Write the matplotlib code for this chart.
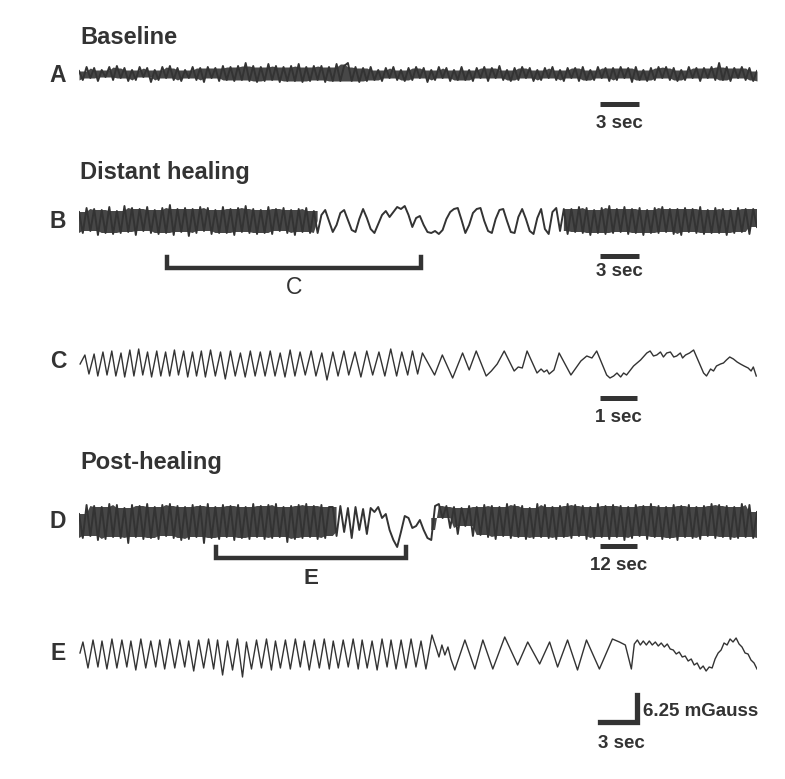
import numpy as np
import matplotlib.pyplot as plt

plt.rcParams['font.family'] = ['Liberation Sans', 'DejaVu Sans']

# ---- data (amplitude in screen px units, up = positive) ----
# dense traces: values at evenly spaced sample times
A_dur = 52.2
A_vals = [3, -6, 7, -4, 6, -7, 4, -3, 7, -6, 8, -4, 6, -7, 4, -6, 7, -3, 6, -8,
          4, -6, 7, -4, 8, -6, 6, -7, 4, -4, 7, -6, 6, -8, 7, -4, 6, -7, 8, -6,
          7, -7, 8, -6, 11, -7, 8, -8, 7, -7, 10, -6, 8, -8, 7, -7, 8, -7, 10, -8,
          7, -7, 8, -6, 8, -8, 7, -7, 10, -7, 8, 11, -7, 7, -8, 6, -7, 7, -6, 4,
          -7, 6, -4, 7, -6, 4, -7, 6, -6, 7, -4, 6, -8, 4, -6, 7, -4, 6, -7, 4,
          -6, 7, -6, 4, -7, 6, -4, 7, -7, 6, -4, 8, -6, 4, -7, 6, -6, 7, -4, 6,
          -7, 4, -6, 6, -4, 7, -6, 4, -7, 6, -4, 6, -7, 7, -6, 4, -6, 7, -4, 6,
          -7, 6, -6, 7, -4, 6, -8, 7, -6, 4, -7, 6, -6, 7, -4, 7, -6, 6, -7, 4,
          -6, 7, -4, 6, -7, 6, -4, 7, -6, 11, -6, 7, -7, 6, -4, 7, -6, 6, -7, 3]
A_dense = [(0.0, 52.2)]

B_dur = 52.2
B_vals = [9, -12, 13, -10, 12, -14, 11, -12, 14, -13, 10, -12, 15, -11, 13, -14, 12, -10, 14, -12,
          11, -13, 13, -12, 16, -14, 12, -11, 13, -15, 12, -12, 14, -10, 13, -13, 11, -12, 14, -12,
          12, -14, 13, -11, 15, -12, 12, -13, 11, -12, 14, -13, 12, -10, 13, -12, 11, -14, 12, -11,
          13, -12, 10, -12,
          6, 11, 0, -11, -4, 8, 11, 1, -9, -11, 2, 12, 3, -8, -12, -3, 6, 10, 4, 9,
          14, 12, 15, 6, -6, 3, 5, -4, -11, -12, -10, -13, -9, 2, 9, 12, 13, 1, -12, -4,
          8, 12, 13, 0, -10, -12, 2, 11, 12, 0, -11, -12, 4, 12, 2, -10, -13, 3, 12, -8,
          -13, 9, 13, -10, 12,
          -13, 12, -11, 14, -12, 13, -14, 11, -12, 13, -13, 15, -12, 12, -11, 14, -13, 12, -12, 13,
          -14, 11, -12, 13, -12, 14, -11, 12, -13, 12, -14, 13, -11, 12, -12, 14, -13, 11, -12, 13,
          -12, 12, -14, 11, -12, 13, -11, 12, -13, 12, -6]
B_dense = [(0.0, 18.4), (37.3, 52.2)]

D_dur = 220.0
D_vals = [8, -16, 17, -14, 16, -18, 15, -17, 18, -15, 17, -16, 14, -21, 17, -15, 16, -17, 18, -16,
          15, -17, 17, -14, 18, -16, 16, -18, 15, -17, 17, -15, 16, -21, 18, -16, 15, -17, 17, -15,
          16, -18, 17, -16, 15, -17, 18, -15, 16, -17, 17, -16, 18, -15, 15, -20, 16, -17, 17, -16,
          18, -15, 16, -17, 17, -16, 15,
          15, -14, 16, -10, 14, -16, 15, -8, 13, -12, 14, 10, 15, 4, 8, -8, -18, -25, -10, 6,
          4, -6, -4, 2, -8, -16, -18, 16, 18, 4, 16, -6, 15, -12, 14, -4, 16, -14, 15,
          -13, 17, -15, 16, -17, 15, -14, 18, -16, 17, -15, 16, -17, 14, -16, 18, -15, 17, -16, 15,
          -17, 16, -15, 18, -16, 17, -14, 16, -17, 15, -16, 18, -15, 16, -17, 17, -15, 16, -18, 15,
          -16, 17, -14, 16, -17, 18, -15, 16, -17, 15, -16, 17, -18, 16, -15, 17, -16, 15, -17, 16,
          -14, 18, -16, 17, -15, 16, -17, 15, -16, 18, -15, 17, -16, 10]
D_dense = [(0.0, 84.0), (113.5, 220.0)]

# slower traces: turning points (time in s, amplitude)
C_dur = 18.4
C_t = [0.03, 0.16, 0.27, 0.41, 0.51, 0.65, 0.76, 0.89, 1.00, 1.14, 1.24, 1.38, 1.49, 1.62,
       1.73, 1.86, 1.97, 2.11, 2.22, 2.35, 2.46, 2.59, 2.70, 2.84, 2.95, 3.08, 3.19, 3.32,
       3.43, 3.57, 3.70, 3.84, 3.97, 4.11, 4.24, 4.38, 4.51, 4.65, 4.78, 4.92, 5.05, 5.19,
       5.32, 5.46, 5.59, 5.73, 5.86, 6.00, 6.14, 6.30, 6.43, 6.59, 6.73, 6.89, 7.03, 7.19,
       7.32, 7.49, 7.65, 7.81, 7.97, 8.14, 8.30, 8.46, 8.62, 8.76, 8.92, 9.05, 9.19, 9.32,
       9.65, 9.86, 10.14, 10.41, 10.59, 10.78, 11.05, 11.19, 11.35, 11.54, 11.81, 11.92,
       12.03, 12.16, 12.43, 12.54, 12.62, 12.70, 12.76, 12.89, 13.03, 13.35, 13.62, 13.78,
       13.92, 14.05, 14.32, 14.41, 14.51, 14.60, 14.70, 14.78, 14.86, 15.05, 15.24, 15.41,
       15.50, 15.59, 15.68, 15.78, 15.86, 15.95, 16.05, 16.14, 16.22, 16.32, 16.38, 16.46,
       16.57, 16.68, 16.95, 17.03, 17.14, 17.22, 17.30, 17.41, 17.49, 17.57, 17.66, 17.76,
       17.86, 17.95, 18.05, 18.16, 18.24, 18.30, 18.38]
C_v = [0, 9, -10, 10, -12, 12, -11, 13, -12, 11, -13, 14, -12, 15,
       -11, 12, -13, 13, -12, 12, -12, 14, -11, 13, -13, 12, -12, 13,
       -13, 14, -12, 12, -15, 13, -12, 11, -13, 13, -12, 12, -12, 13,
       -12, 11, -13, 14, -12, 12, -11, 13, -12, 11, -16, 12, -12, 13,
       -11, 12, -13, 13, -11, 12, -12, 15, -12, 12, -11, 13, -10, 11,
       -11, 9, -14, 11, -6, 13, -12, -7, 0, 13, -7, -3,
       -4, 13, -9, -5, -8, -6, -10, -6, 11, -11, 3, 8,
       6, 13, -11, -14, -12, -9, -13, -9, -11, -2, 4, 11,
       13, 8, 9, 12, 7, 11, 12, 7, 8, 11, 6, 9,
       11, 14, -9, -12, -5, -7, -2, 0, 1, 4, 7, 5,
       2, 0, -2, -4, -7, -3, -12]

E_dur = 55.15
E_t = [0.08, 0.32, 0.73, 1.14, 1.54, 1.87, 2.27, 2.68, 3.08, 3.49, 3.89, 4.22, 4.62, 5.03,
       5.43, 5.84, 6.24, 6.57, 6.97, 7.38, 7.79, 8.19, 8.60, 8.92, 9.33, 9.73, 10.14, 10.54,
       10.95, 11.27, 11.68, 12.08, 12.49, 12.89, 13.30, 13.62, 14.03, 14.44, 14.84, 15.25,
       15.65, 15.98, 16.38, 16.79, 17.19, 17.60, 18.00, 18.33, 18.73, 19.14, 19.55, 19.95,
       20.36, 20.68, 21.09, 21.49, 21.90, 22.30, 22.71, 23.03, 23.44, 23.84, 24.25, 24.65,
       25.06, 25.38, 25.79, 26.20, 26.60, 27.01, 27.41, 27.82, 28.22, 28.71,
       29.03, 29.28, 29.52, 29.76, 30.01, 30.25, 30.57, 31.39, 32.20, 32.85, 33.66, 34.63,
       35.68, 36.50, 37.47, 38.28, 38.93, 39.74, 40.55, 41.28, 42.33, 43.39, 43.96, 44.44,
       44.93, 45.17, 45.42, 45.66, 45.90, 46.15, 46.39, 46.63, 46.88, 47.12, 47.36, 47.61,
       47.85, 48.09, 48.34, 48.58, 48.82, 49.07, 49.31, 49.55, 49.80, 50.04, 50.28, 50.53,
       50.77, 51.01, 51.26, 51.50, 51.74, 51.99, 52.23, 52.47, 52.72, 52.96, 53.20, 53.45,
       53.69, 53.93, 54.18, 54.42, 54.66, 54.91, 55.15]
E_v = [2, 13, -13, 15, -12, 14, -14, 16, -13, 15, -12, 14, -15, 16, -13, 14, -12,
       15, -14, 16, -13, 15, -12, 14, -16, 15, -13, 16, -14, 15, -20, 14, -15, 16, -22, 13,
       -14, 15, -13, 16, -15, 14, -13, 15, -14, 16, -12, 14, -15, 15, -13, 16, -14, 14,
       -13, 15, -12, 16, -14, 15, -13, 14, -15, 16, -12, 15, -14, 15, -13, 16, -12, 14,
       -14, 20, 8, -2, 10, 0, 8, -4, -15, 15, -14, 15, -14, 18, -10, 13, -9, 13, -12, 15,
       -15, 15, -14, 16, 13, 10, -14, 11, 15, 10, 14, 10, 14, 10, 13, 9, 12, 8, 11, 6,
       5, 1, 3, -2, -1, -6, -4, -10, -8, -14, -11, -16, -12, -13, -4, 2, 5, 12, 10, 16,
       13, 17, 11, 8, 2, 1, -5, -8, -14]

C_window = (6.8, 26.3)     # part of B shown in C (s)
E_window = (44.4, 106.1)   # part of D shown in E (s)
scale_sec = {'A': 3, 'B': 3, 'C': 1, 'D': 12, 'E': 3}
scale_mgauss = 6.25

# ---- layout (pixels) ----
W, H = 785, 779
L, R = 79, 757
ink = '#333333'
band = '#474747'

fig = plt.figure(figsize=(W / 100, H / 100), dpi=100)


def trace_axes(cy, top, bottom, dur):
    ax = fig.add_axes([L / W, 1 - bottom / H, (R - L) / W, (bottom - top) / H])
    ax.set_xlim(0, dur)
    ax.set_ylim(-(bottom - cy), cy - top)
    ax.axis('off')
    return ax


def px_to_t(x, dur):
    return (x - L) / (R - L) * dur


def dense_trace(ax, vals, dur, dense):
    # too fast to resolve: the strokes merge into a solid band, spikes stick out
    v = np.asarray(vals, float)
    t = np.linspace(0, dur, len(v))
    n = len(v)
    p = np.pad(v, 1, mode='edge')
    up = np.max([p[:-2], p[1:-1], p[2:]], axis=0)
    lo = np.min([p[:-2], p[1:-1], p[2:]], axis=0)
    pu, pl = np.pad(up, 2, mode='edge'), np.pad(lo, 2, mode='edge')
    core_hi = np.min([pu[k:k + n] for k in range(5)], axis=0)
    core_lo = np.max([pl[k:k + n] for k in range(5)], axis=0)
    mask = np.zeros(n, bool)
    for a, b in dense:
        mask |= (t >= a) & (t <= b)
    ax.fill_between(t, core_lo, core_hi, where=mask, color=band, lw=0)
    ax.plot(t, v, color=ink, lw=1.4)


def scale_bar(ax, dur, sec, ybar, ytext):
    t0 = px_to_t(600, dur)
    ax.plot([t0, t0 + sec], [ybar, ybar], color=ink, lw=3.6, solid_capstyle='butt', clip_on=False)
    ax.text(t0 + sec / 2, ytext, f'{sec} sec', ha='center', va='center',
            fontsize=13.5, fontweight='bold', color=ink)


def bracket(ax, win, y, ytop, label, weight, size):
    ax.plot([win[0], win[0], win[1], win[1]], [ytop, y, y, ytop], color=ink, lw=3.2,
            solid_joinstyle='miter', clip_on=False)
    ax.text((win[0] + win[1]) / 2, y - 20, label, ha='center', va='center',
            fontsize=size, fontweight=weight, color=ink)


def title(text, y):
    fig.text(80 / W, 1 - y / H, text, ha='left', va='center', fontsize=17,
             fontweight='bold', color=ink)


def letter(text, y):
    fig.text(58 / W, 1 - y / H, text, ha='center', va='center', fontsize=16.5,
             fontweight='bold', color=ink)


# A
title('Baseline', 37)
letter('A', 75)
axA = trace_axes(74, 50, 135, A_dur)
dense_trace(axA, A_vals, A_dur, A_dense)
scale_bar(axA, A_dur, scale_sec['A'], -30, -49)

# B
title('Distant healing', 172)
letter('B', 222)
axB = trace_axes(221, 190, 300, B_dur)
dense_trace(axB, B_vals, B_dur, B_dense)
scale_bar(axB, B_dur, scale_sec['B'], -35, -51)
bracket(axB, C_window, -47, -36, 'C', 'normal', 16.5)

# C
letter('C', 362)
axC = trace_axes(364, 330, 430, C_dur)
axC.plot(C_t, C_v, color=ink, lw=1.0)
scale_bar(axC, C_dur, scale_sec['C'], -34, -54)

# D
title('Post-healing', 463)
letter('D', 522)
axD = trace_axes(522, 485, 590, D_dur)
dense_trace(axD, D_vals, D_dur, D_dense)
scale_bar(axD, D_dur, scale_sec['D'], -24, -44)
bracket(axD, E_window, -36, -25, 'E', 'bold', 16)

# E
letter('E', 653)
axE = trace_axes(655, 620, 765, E_dur)
axE.plot(E_t, E_v, color=ink, lw=1.0)
# L-shaped calibration: 3 sec horizontal, 6.25 mGauss vertical
t0 = px_to_t(600, E_dur)
t1 = t0 + scale_sec['E']
axE.plot([t0, t1, t1], [-67, -67, -40], color=ink, lw=3.8, solid_joinstyle='miter', clip_on=False)
axE.text(px_to_t(643, E_dur), -56, f'{scale_mgauss} mGauss', ha='left', va='center',
         fontsize=13.5, fontweight='bold', color=ink)
axE.text(px_to_t(621, E_dur), -88, f"{scale_sec['E']} sec", ha='center', va='center',
         fontsize=13.5, fontweight='bold', color=ink)

fig.savefig('out.png', dpi=100, facecolor='white')
